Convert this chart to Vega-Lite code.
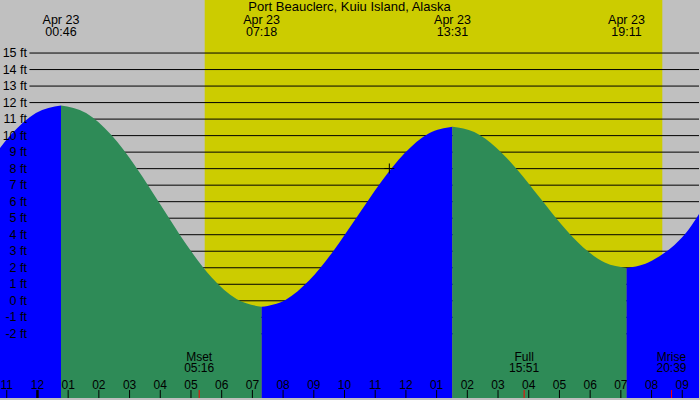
{
  "$schema": "https://vega.github.io/schema/vega-lite/v6.json",
  "width": 700,
  "height": 400,
  "autosize": {"type": "fit", "contains": "padding"},
  "padding": 0,
  "background": "#c0c0c0",
  "config": {"view": {"stroke": null}, "text": {"font": "Liberation Sans", "fontSize": 12.5, "color": "#000000"}},
  "datasets": {
    "tide": [
      {"seg": "a", "phase": "rising", "t": -1.683, "h": 8.067},
      {"seg": "a", "phase": "rising", "t": -0.866, "h": 10.045},
      {"seg": "a", "phase": "rising", "t": -0.05, "h": 11.366},
      {"seg": "a", "phase": "rising", "t": 0.767, "h": 11.83},
      {"seg": "b", "phase": "falling", "t": 0.767, "h": 11.83},
      {"seg": "b", "phase": "falling", "t": 1.584, "h": 11.366},
      {"seg": "b", "phase": "falling", "t": 2.4, "h": 10.045},
      {"seg": "b", "phase": "falling", "t": 3.217, "h": 8.067},
      {"seg": "b", "phase": "falling", "t": 4.034, "h": 5.735},
      {"seg": "b", "phase": "falling", "t": 4.85, "h": 3.403},
      {"seg": "b", "phase": "falling", "t": 5.667, "h": 1.425},
      {"seg": "b", "phase": "falling", "t": 6.483, "h": 0.104},
      {"seg": "b", "phase": "falling", "t": 7.3, "h": -0.36},
      {"seg": "c", "phase": "rising", "t": 7.3, "h": -0.36},
      {"seg": "c", "phase": "rising", "t": 8.077, "h": 0.055},
      {"seg": "c", "phase": "rising", "t": 8.854, "h": 1.236},
      {"seg": "c", "phase": "rising", "t": 9.631, "h": 3.005},
      {"seg": "c", "phase": "rising", "t": 10.409, "h": 5.09},
      {"seg": "c", "phase": "rising", "t": 11.186, "h": 7.175},
      {"seg": "c", "phase": "rising", "t": 11.963, "h": 8.944},
      {"seg": "c", "phase": "rising", "t": 12.74, "h": 10.125},
      {"seg": "c", "phase": "rising", "t": 13.517, "h": 10.54},
      {"seg": "d", "phase": "falling", "t": 13.517, "h": 10.54},
      {"seg": "d", "phase": "falling", "t": 14.225, "h": 10.214},
      {"seg": "d", "phase": "falling", "t": 14.934, "h": 9.288},
      {"seg": "d", "phase": "falling", "t": 15.642, "h": 7.901},
      {"seg": "d", "phase": "falling", "t": 16.35, "h": 6.265},
      {"seg": "d", "phase": "falling", "t": 17.058, "h": 4.629},
      {"seg": "d", "phase": "falling", "t": 17.767, "h": 3.242},
      {"seg": "d", "phase": "falling", "t": 18.475, "h": 2.316},
      {"seg": "d", "phase": "falling", "t": 19.183, "h": 1.99},
      {"seg": "e", "phase": "rising", "t": 19.183, "h": 1.99},
      {"seg": "e", "phase": "rising", "t": 19.8, "h": 2.24},
      {"seg": "e", "phase": "rising", "t": 20.244, "h": 2.68},
      {"seg": "e", "phase": "rising", "t": 20.894, "h": 3.65},
      {"seg": "e", "phase": "rising", "t": 21.22, "h": 4.35},
      {"seg": "e", "phase": "rising", "t": 21.545, "h": 5.25},
      {"seg": "e", "phase": "rising", "t": 21.9, "h": 6.35}
    ],
    "grid": [
      {"h": 15, "label": "15 ft"}, {"h": 14, "label": "14 ft"}, {"h": 13, "label": "13 ft"},
      {"h": 12, "label": "12 ft"}, {"h": 11, "label": "11 ft"}, {"h": 10, "label": "10 ft"},
      {"h": 9, "label": "9 ft"}, {"h": 8, "label": "8 ft"}, {"h": 7, "label": "7 ft"},
      {"h": 6, "label": "6 ft"}, {"h": 5, "label": "5 ft"}, {"h": 4, "label": "4 ft"},
      {"h": 3, "label": "3 ft"}, {"h": 2, "label": "2 ft"}, {"h": 1, "label": "1 ft"},
      {"h": 0, "label": "0 ft"}, {"h": -1, "label": "-1 ft"}, {"h": -2, "label": "-2 ft"}
    ],
    "events": [
      {"t": 0.767, "label": ["Apr 23", "00:46"]},
      {"t": 7.3, "label": ["Apr 23", "07:18"]},
      {"t": 13.517, "label": ["Apr 23", "13:31"]},
      {"t": 19.183, "label": ["Apr 23", "19:11"]}
    ],
    "hours": [
      {"t": -1, "label": "11"}, {"t": 0, "label": "12"}, {"t": 1, "label": "01"},
      {"t": 2, "label": "02"}, {"t": 3, "label": "03"}, {"t": 4, "label": "04"},
      {"t": 5, "label": "05"}, {"t": 6, "label": "06"}, {"t": 7, "label": "07"},
      {"t": 8, "label": "08"}, {"t": 9, "label": "09"}, {"t": 10, "label": "10"},
      {"t": 11, "label": "11"}, {"t": 12, "label": "12"}, {"t": 13, "label": "01"},
      {"t": 14, "label": "02"}, {"t": 15, "label": "03"}, {"t": 16, "label": "04"},
      {"t": 17, "label": "05"}, {"t": 18, "label": "06"}, {"t": 19, "label": "07"},
      {"t": 20, "label": "08"}, {"t": 21, "label": "09"}
    ],
    "moon": [
      {"t": 5.267, "label": ["Mset", "05:16"]},
      {"t": 15.85, "label": ["Full", "15:51"]},
      {"t": 20.65, "label": ["Mrise", "20:39"]}
    ],
    "daylight": [{"t": 5.447, "t2": 20.35}],
    "now": [{"t": 11.46, "h": 8.01}],
    "title": [{"label": "Port Beauclerc, Kuiu Island, Alaska"}]
  },
  "layer": [
    {
      "data": {"name": "daylight"},
      "mark": {"type": "rect", "fill": "#cccc00"},
      "encoding": {
        "x": {"field": "t", "type": "quantitative", "scale": {"domain": [-1.2195, 21.545], "nice": false, "zero": false}, "axis": null},
        "x2": {"field": "t2"},
        "y": {"datum": 18.211, "type": "quantitative", "scale": {"domain": [-5.886, 18.211], "nice": false, "zero": false}, "axis": null},
        "y2": {"datum": -5.886}
      }
    },
    {
      "data": {"name": "grid"},
      "mark": {"type": "rule", "color": "#000000", "strokeWidth": 1},
      "encoding": {
        "x": {"datum": -0.26, "type": "quantitative", "scale": {"domain": [-1.2195, 21.545], "nice": false, "zero": false}, "axis": null},
        "x2": {"datum": 21.545},
        "y": {"field": "h", "type": "quantitative", "scale": {"domain": [-5.886, 18.211], "nice": false, "zero": false}, "axis": null}
      }
    },
    {
      "data": {"name": "tide"},
      "mark": {"type": "area", "interpolate": "monotone", "clip": true},
      "encoding": {
        "x": {"field": "t", "type": "quantitative", "scale": {"domain": [-1.2195, 21.545], "nice": false, "zero": false}, "axis": null},
        "y": {"field": "h", "type": "quantitative", "scale": {"domain": [-5.886, 18.211], "nice": false, "zero": false}, "axis": null},
        "y2": {"datum": -5.886},
        "color": {"field": "phase", "type": "nominal", "scale": {"domain": ["rising", "falling"], "range": ["#0000ff", "#2e8b57"]}, "legend": null},
        "detail": {"field": "seg"}
      }
    },
    {
      "data": {"name": "grid"},
      "mark": {"type": "text", "align": "right", "baseline": "middle"},
      "encoding": {
        "x": {"datum": -0.3415, "type": "quantitative", "scale": {"domain": [-1.2195, 21.545], "nice": false, "zero": false}, "axis": null},
        "y": {"field": "h", "type": "quantitative", "scale": {"domain": [-5.886, 18.211], "nice": false, "zero": false}, "axis": null},
        "text": {"field": "label"}
      }
    },
    {
      "data": {"name": "events"},
      "mark": {"type": "text", "align": "center", "baseline": "middle", "lineHeight": 12},
      "encoding": {
        "x": {"field": "t", "type": "quantitative", "scale": {"domain": [-1.2195, 21.545], "nice": false, "zero": false}, "axis": null},
        "y": {"datum": 17.006, "type": "quantitative", "scale": {"domain": [-5.886, 18.211], "nice": false, "zero": false}, "axis": null},
        "text": {"field": "label"}
      }
    },
    {
      "data": {"name": "title"},
      "mark": {"type": "text", "align": "center", "baseline": "middle", "fontSize": 13},
      "encoding": {
        "x": {"datum": 10.163, "type": "quantitative", "scale": {"domain": [-1.2195, 21.545], "nice": false, "zero": false}, "axis": null},
        "y": {"datum": 17.76, "type": "quantitative", "scale": {"domain": [-5.886, 18.211], "nice": false, "zero": false}, "axis": null},
        "text": {"field": "label"}
      }
    },
    {
      "data": {"name": "hours"},
      "mark": {"type": "rule", "color": "#000000"},
      "encoding": {
        "x": {"field": "t", "type": "quantitative", "scale": {"domain": [-1.2195, 21.545], "nice": false, "zero": false}, "axis": null},
        "y": {"datum": -5.404, "type": "quantitative", "scale": {"domain": [-5.886, 18.211], "nice": false, "zero": false}, "axis": null},
        "y2": {"datum": -5.886},
        "strokeWidth": {"condition": {"test": "datum.t === 0", "value": 2.5}, "value": 1}
      }
    },
    {
      "data": {"name": "hours"},
      "mark": {"type": "text", "align": "center", "baseline": "middle", "fontSize": 12},
      "encoding": {
        "x": {"field": "t", "type": "quantitative", "scale": {"domain": [-1.2195, 21.545], "nice": false, "zero": false}, "axis": null},
        "y": {"datum": -5.102, "type": "quantitative", "scale": {"domain": [-5.886, 18.211], "nice": false, "zero": false}, "axis": null},
        "text": {"field": "label"}
      }
    },
    {
      "data": {"name": "moon"},
      "mark": {"type": "rule", "color": "#ff0000", "strokeWidth": 1},
      "encoding": {
        "x": {"field": "t", "type": "quantitative", "scale": {"domain": [-1.2195, 21.545], "nice": false, "zero": false}, "axis": null},
        "y": {"datum": -5.404, "type": "quantitative", "scale": {"domain": [-5.886, 18.211], "nice": false, "zero": false}, "axis": null},
        "y2": {"datum": -5.886}
      }
    },
    {
      "data": {"name": "moon"},
      "mark": {"type": "text", "align": "center", "baseline": "middle", "lineHeight": 11.5, "fontSize": 12},
      "encoding": {
        "x": {"field": "t", "type": "quantitative", "scale": {"domain": [-1.2195, 21.545], "nice": false, "zero": false}, "axis": null},
        "y": {"datum": -3.386, "type": "quantitative", "scale": {"domain": [-5.886, 18.211], "nice": false, "zero": false}, "axis": null},
        "text": {"field": "label"}
      }
    },
    {
      "data": {"name": "now"},
      "mark": {"type": "point", "shape": "M-1,0L1,0M0,-1L0,1", "size": 100, "filled": false, "stroke": "#000000", "strokeWidth": 1, "opacity": 1},
      "encoding": {
        "x": {"field": "t", "type": "quantitative", "scale": {"domain": [-1.2195, 21.545], "nice": false, "zero": false}, "axis": null},
        "y": {"field": "h", "type": "quantitative", "scale": {"domain": [-5.886, 18.211], "nice": false, "zero": false}, "axis": null}
      }
    }
  ]
}
